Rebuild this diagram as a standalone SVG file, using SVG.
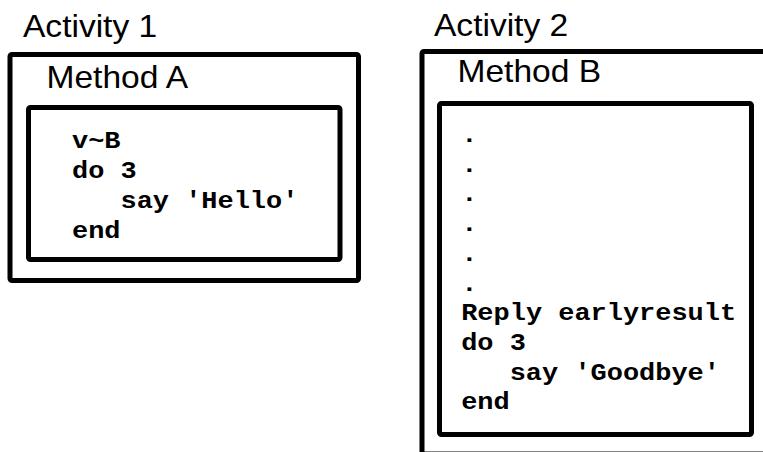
<svg xmlns="http://www.w3.org/2000/svg" width="763" height="452" viewBox="0 0 763 452">
<style>
.box{fill:none;stroke:#000;stroke-width:5;stroke-linejoin:round}
.lbl{font-family:"Liberation Sans",Arial,sans-serif;font-size:30.5px;fill:#000}
.code{font-family:"Courier New","Liberation Mono",monospace;font-weight:bold;font-size:24.5px;fill:#000}
</style>
<rect width="763" height="452" fill="#fff"/>
<g id="activity1">
<rect class="box" x="10" y="54.5" width="348.5" height="226" rx="2"/>
<g transform="translate(23,36.5) scale(1.1,1)"><text class="lbl">Activity 1</text></g>
</g>
<g id="methodA">
<rect class="box" x="28.5" y="107.5" width="311.5" height="152" rx="2"/>
<g transform="translate(46.5,88) scale(1.1,1)"><text class="lbl">Method A</text></g>
<g transform="translate(72,148) scale(1.1,1)"><text class="code">v~B</text></g>
<g transform="translate(72,178) scale(1.1,1)"><text class="code">do 3</text></g>
<g transform="translate(120.5,208) scale(1.1,1)"><text class="code">say 'Hello'</text></g>
<g transform="translate(72,238) scale(1.1,1)"><text class="code">end</text></g>
</g>
<g id="activity2">
<rect class="box" x="422" y="51.5" width="400" height="402.5" rx="2"/>
<g transform="translate(434,36) scale(1.1,1)"><text class="lbl">Activity 2</text></g>
</g>
<g id="methodB">
<rect class="box" x="439.5" y="103.5" width="312" height="331" rx="2"/>
<g transform="translate(457.5,82) scale(1.1,1)"><text class="lbl">Method B</text></g>
<g transform="translate(461.2,142) scale(1.1,1)"><text class="code">.</text></g>
<g transform="translate(461.2,171.7) scale(1.1,1)"><text class="code">.</text></g>
<g transform="translate(461.2,201.4) scale(1.1,1)"><text class="code">.</text></g>
<g transform="translate(461.2,231.1) scale(1.1,1)"><text class="code">.</text></g>
<g transform="translate(461.2,260.8) scale(1.1,1)"><text class="code">.</text></g>
<g transform="translate(461.2,290.5) scale(1.1,1)"><text class="code">.</text></g>
<g transform="translate(461.2,320.2) scale(1.1,1)"><text class="code">Reply earlyresult</text></g>
<g transform="translate(461.2,349.9) scale(1.1,1)"><text class="code">do 3</text></g>
<g transform="translate(509.7,379.6) scale(1.1,1)"><text class="code">say 'Goodbye'</text></g>
<g transform="translate(461.2,409.3) scale(1.1,1)"><text class="code">end</text></g>
</g>
<g id="connectors"></g>
</svg>
